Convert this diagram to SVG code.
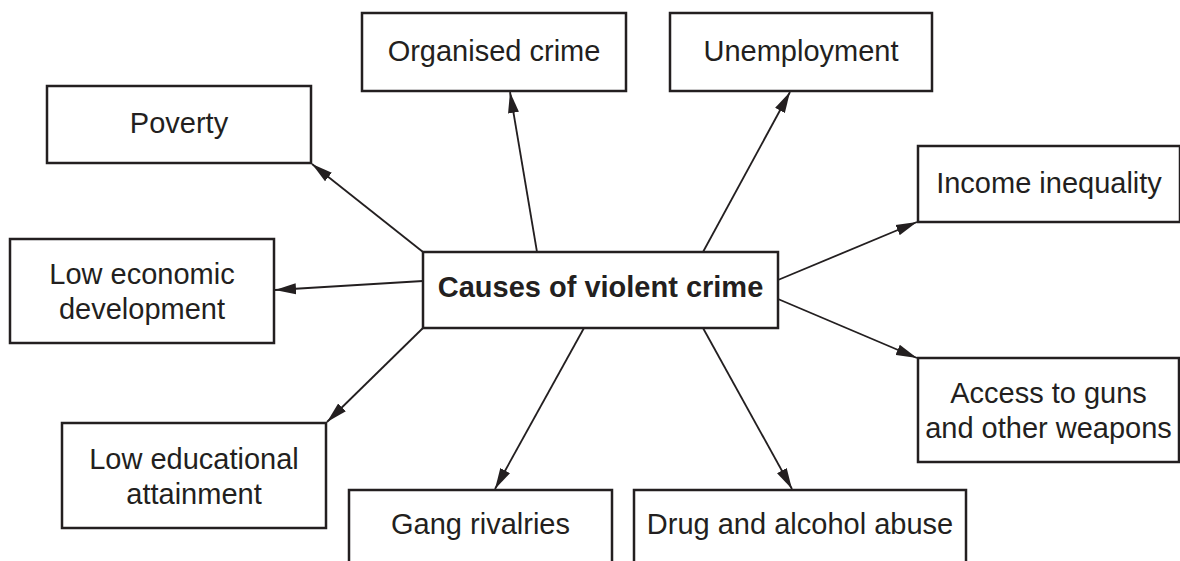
<svg xmlns="http://www.w3.org/2000/svg" width="1180" height="561" viewBox="0 0 1180 561">
<defs>
<style>
.box{fill:#fff;stroke:#231f20;stroke-width:2.5}
.t{font-family:"Liberation Sans",Arial,sans-serif;font-size:29px;fill:#231f20;text-anchor:middle}
.b{font-weight:bold}
.c{stroke:#231f20;stroke-width:1.8;fill:none;marker-end:url(#ah)}
</style>
<marker id="ah" markerUnits="userSpaceOnUse" markerWidth="22" markerHeight="12" refX="21" refY="6" orient="auto">
<path d="M0,0.5 L21,6 L0,11.5 Z" fill="#231f20"/>
</marker>
</defs>
<rect width="1180" height="561" fill="#fff"/>
<g id="connectors">
<line class="c" x1="423" y1="252" x2="312" y2="164"/>
<line class="c" x1="537" y1="252" x2="510" y2="92"/>
<line class="c" x1="703" y1="252" x2="790" y2="92"/>
<line class="c" x1="778" y1="280" x2="917" y2="222"/>
<line class="c" x1="778" y1="299" x2="917" y2="358"/>
<line class="c" x1="703" y1="328" x2="792" y2="489"/>
<line class="c" x1="584" y1="328" x2="495" y2="489"/>
<line class="c" x1="423" y1="328" x2="327" y2="422"/>
<line class="c" x1="423" y1="281" x2="275" y2="290"/>
</g>
<g id="center">
<rect class="box" x="423" y="252" width="355" height="76"/>
<text class="t b" x="600.5" y="297">Causes of violent crime</text>
</g>
<g id="poverty">
<rect class="box" x="47" y="86" width="264" height="77"/>
<text class="t" x="179" y="133">Poverty</text>
</g>
<g id="organised">
<rect class="box" x="362" y="13" width="264" height="78"/>
<text class="t" x="494" y="61">Organised crime</text>
</g>
<g id="unemployment">
<rect class="box" x="670" y="13" width="262" height="78"/>
<text class="t" x="801" y="61">Unemployment</text>
</g>
<g id="income">
<rect class="box" x="918" y="146" width="262" height="76"/>
<text class="t" x="1049" y="193">Income inequality</text>
</g>
<g id="access">
<rect class="box" x="918" y="358" width="261" height="104"/>
<text class="t" x="1048.5" y="403">Access to guns</text>
<text class="t" x="1048.5" y="438">and other weapons</text>
</g>
<g id="lowecon">
<rect class="box" x="10" y="239" width="264" height="104"/>
<text class="t" x="142" y="284">Low economic</text>
<text class="t" x="142" y="319">development</text>
</g>
<g id="lowedu">
<rect class="box" x="62" y="423" width="264" height="105"/>
<text class="t" x="194" y="469">Low educational</text>
<text class="t" x="194" y="504">attainment</text>
</g>
<g id="gang">
<rect class="box" x="349" y="490" width="263" height="90"/>
<text class="t" x="480.5" y="534">Gang rivalries</text>
</g>
<g id="drug">
<rect class="box" x="634" y="490" width="332" height="90"/>
<text class="t" x="800" y="534">Drug and alcohol abuse</text>
</g>
</svg>
